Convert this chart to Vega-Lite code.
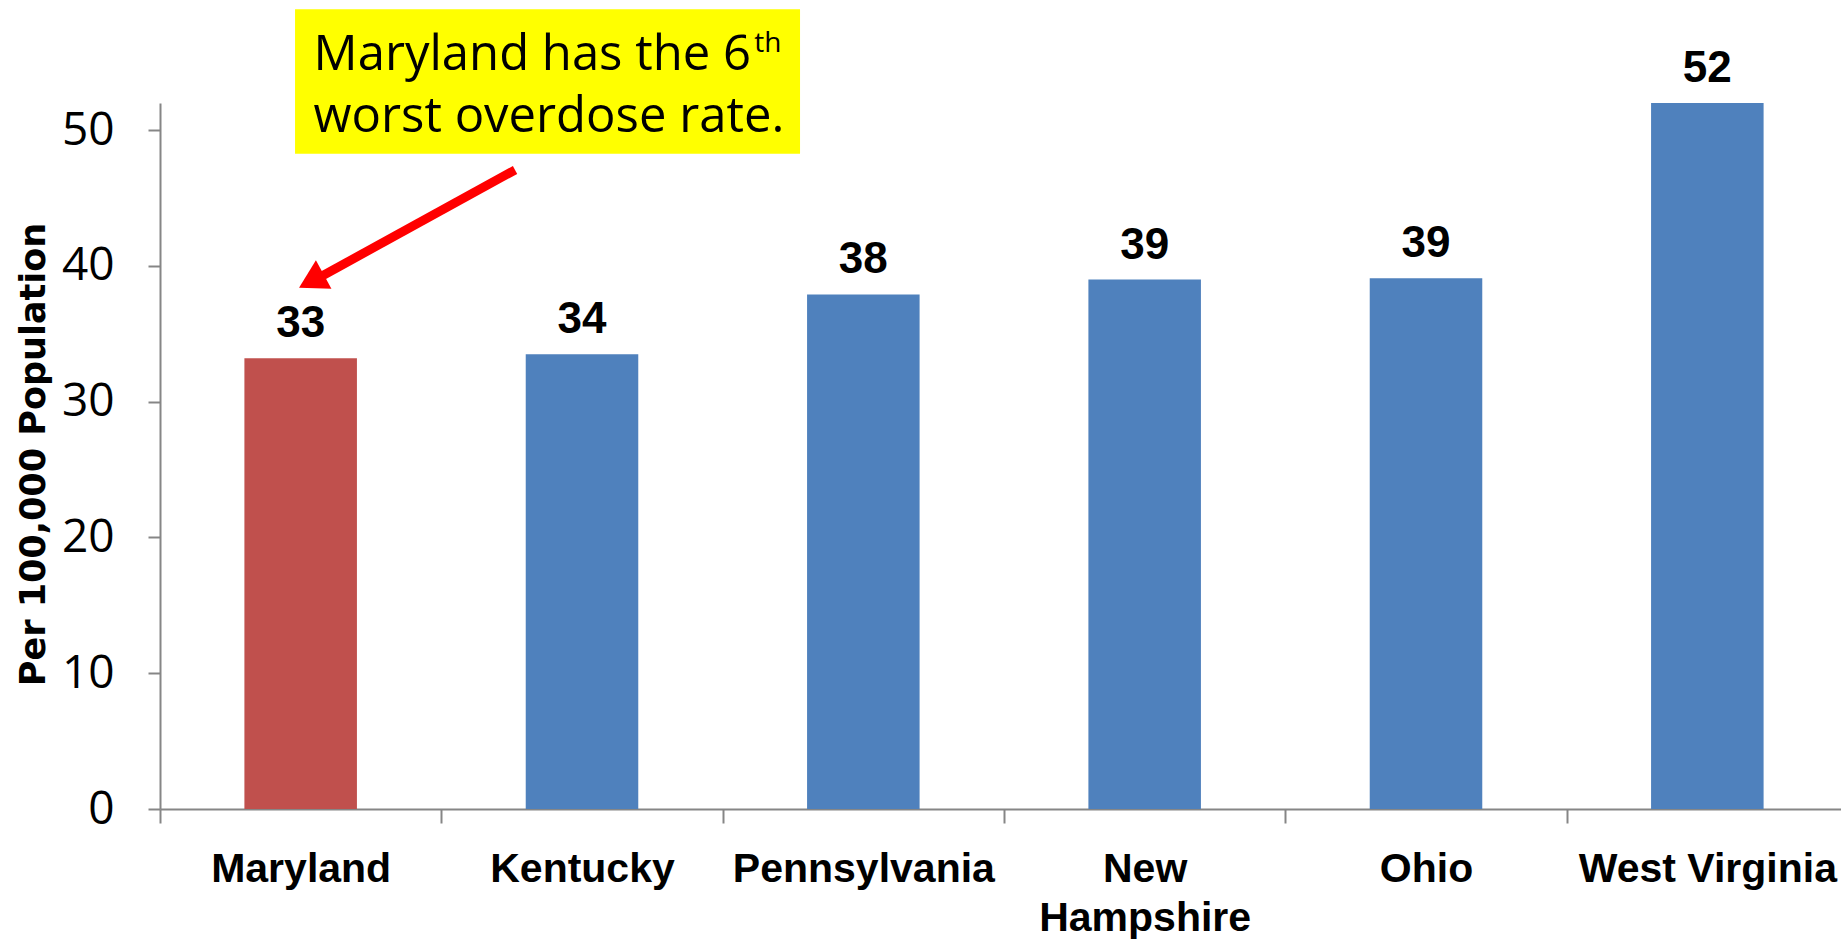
{
  "$schema": "https://vega.github.io/schema/vega-lite/v6.json",
  "width": 1688,
  "height": 706,
  "autosize": {"type": "none"},
  "padding": {"left": 160, "top": 103, "right": 0, "bottom": 138},
  "background": "white",
  "config": {"view": {"stroke": null}},
  "datasets": {
    "states": [
      {"state": "Maryland", "rate": 33.2},
      {"state": "Kentucky", "rate": 33.5},
      {"state": "Pennsylvania", "rate": 37.9},
      {"state": "New Hampshire", "rate": 39.0},
      {"state": "Ohio", "rate": 39.1},
      {"state": "West Virginia", "rate": 52.0}
    ],
    "note": [
      {"note": "Maryland has the 6th worst overdose rate."}
    ]
  },
  "layer": [
    {
      "data": {"name": "states"},
      "layer": [
        {
          "mark": {"type": "bar", "width": {"band": 0.4}},
          "encoding": {
            "x": {
              "field": "state",
              "type": "nominal",
              "sort": null,
              "scale": {"paddingInner": 0, "paddingOuter": 0},
              "axis": {
                "title": null,
                "labelAngle": 0,
                "labelFont": "Liberation Sans Narrow, Arial Narrow, Liberation Sans, sans-serif",
                "labelFontWeight": "bold",
                "labelFontSize": 41,
                "labelColor": "black",
                "labelPadding": 26,
                "labelLineHeight": 49,
                "labelLimit": 0,
                "labelExpr": "datum.value == 'New Hampshire' ? ['New', 'Hampshire'] : datum.value",
                "domainColor": "#868686",
                "domainWidth": 2,
                "tickColor": "#868686",
                "tickWidth": 2,
                "tickSize": 14,
                "tickBand": "extent",
                "grid": false
              }
            },
            "y": {
              "field": "rate",
              "type": "quantitative",
              "scale": {"domain": [0, 52], "nice": false},
              "axis": {
                "values": [0, 10, 20, 30, 40, 50],
                "title": "Per 100,000 Population",
                "titleFont": "DejaVu Sans",
                "titleFontWeight": "bold",
                "titleFontSize": 35,
                "titleColor": "black",
                "titleAngle": -90,
                "titleX": -127,
                "titleY": 351,
                "titleAlign": "center",
                "titleBaseline": "middle",
                "labelFont": "Open Sans",
                "labelFontSize": 46,
                "labelColor": "black",
                "labelPadding": 34,
                "tickSize": 12,
                "tickColor": "#868686",
                "tickWidth": 2,
                "domainColor": "#868686",
                "domainWidth": 2,
                "grid": false
              }
            },
            "color": {
              "condition": {"test": "datum.state === 'Maryland'", "value": "#C0504D"},
              "value": "#4F81BD"
            }
          }
        },
        {
          "mark": {
            "type": "text",
            "font": "Liberation Sans Narrow, Arial Narrow, Liberation Sans, sans-serif",
            "fontWeight": "bold",
            "fontSize": 44,
            "baseline": "alphabetic",
            "dy": -21,
            "color": "black"
          },
          "encoding": {
            "x": {"field": "state", "type": "nominal", "sort": null},
            "y": {"field": "rate", "type": "quantitative"},
            "text": {"field": "rate", "type": "quantitative", "format": ".0f"}
          }
        }
      ]
    },
    {
      "data": {"name": "note"},
      "mark": {"type": "rect", "color": "#FFFF00"},
      "encoding": {
        "x": {"datum": 0.48, "type": "quantitative", "scale": {"domain": [0, 6], "nice": false, "zero": false}, "axis": null},
        "x2": {"datum": 2.275},
        "y": {"datum": 58.9, "type": "quantitative"},
        "y2": {"datum": 48.26}
      }
    },
    {
      "data": {"name": "note"},
      "mark": {"type": "text", "font": "Open Sans", "fontSize": 49, "align": "left", "baseline": "alphabetic", "lineHeight": 62, "color": "black", "text": ["Maryland has the 6", "worst overdose rate."]},
      "encoding": {
        "x": {"datum": 0.546, "type": "quantitative", "scale": {"domain": [0, 6], "nice": false, "zero": false}, "axis": null},
        "y": {"datum": 54.43, "type": "quantitative"}
      }
    },
    {
      "data": {"name": "note"},
      "mark": {"type": "text", "font": "Open Sans", "fontSize": 28, "align": "left", "baseline": "alphabetic", "color": "black", "text": "th"},
      "encoding": {
        "x": {"datum": 2.112, "type": "quantitative", "scale": {"domain": [0, 6], "nice": false, "zero": false}, "axis": null},
        "y": {"datum": 55.76, "type": "quantitative"}
      }
    },
    {
      "data": {"name": "note"},
      "mark": {"type": "rule", "color": "#FF0000", "strokeWidth": 9},
      "encoding": {
        "x": {"datum": 1.262, "type": "quantitative", "scale": {"domain": [0, 6], "nice": false, "zero": false}, "axis": null},
        "x2": {"datum": 0.576},
        "y": {"datum": 47.07, "type": "quantitative"},
        "y2": {"datum": 39.26}
      }
    },
    {
      "data": {"name": "note"},
      "mark": {"type": "point", "shape": "triangle-up", "filled": true, "opacity": 1, "color": "#FF0000", "size": 1050, "angle": 241.4},
      "encoding": {
        "x": {"datum": 0.538, "type": "quantitative", "scale": {"domain": [0, 6], "nice": false, "zero": false}, "axis": null},
        "y": {"datum": 38.88, "type": "quantitative"}
      }
    }
  ],
  "resolve": {"scale": {"x": "independent"}}
}
